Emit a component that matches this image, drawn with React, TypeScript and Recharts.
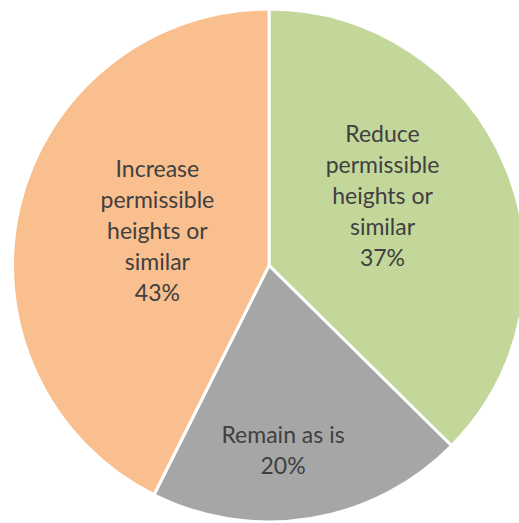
import React from 'react';
import { PieChart, Pie, Cell } from 'recharts';

const categories = [
  'Reduce permissible heights or similar',
  'Remain as is',
  'Increase permissible heights or similar',
];
const shares = [37.4, 20.0, 42.6];
const colors = ['#C4D79B', '#A6A6A6', '#FABF8F'];
// label placement: fraction of the radius, and a nudge (deg) off the slice's mid angle
const labelRadius = [0.52, 0.72, 0.457];
const labelAngleShift = [9, -5, -4.5];

const data = categories.map((name, i) => ({ name, value: shares[i] }));

const wrap = (text: string, max = 12): string[] => {
  const lines: string[] = [];
  let cur = '';
  text.split(' ').forEach(word => {
    const next = cur ? `${cur} ${word}` : word;
    if (next.length > max && cur) {
      lines.push(cur);
      cur = word;
    } else {
      cur = next;
    }
  });
  if (cur) lines.push(cur);
  return lines;
};

const RADIAN = Math.PI / 180;

const renderLabel = (props: any) => {
  const { cx, cy, midAngle, outerRadius, percent, name, index } = props;
  const r = outerRadius * labelRadius[index];
  const a = (midAngle + labelAngleShift[index]) * RADIAN;
  const x = cx + r * Math.cos(-a);
  const y = cy + r * Math.sin(-a);
  const lines = [...wrap(name), `${Math.round(percent * 100)}%`];
  const lh = 31;
  const top = y - ((lines.length - 1) * lh) / 2;
  return (
    <text
      textAnchor="middle"
      dominantBaseline="central"
      fill="#404040"
      fontSize={23}
      fontFamily="Lato, 'Open Sans', sans-serif"
    >
      {lines.map((l, i) => (
        <tspan key={i} x={x} y={top + i * lh}>
          {l}
        </tspan>
      ))}
    </text>
  );
};

export default function App() {
  return (
    <div style={{ position: 'absolute', left: 0, top: 0, width: 519, height: 523, background: '#fff' }}>
      <PieChart width={519} height={523} margin={{ top: 0, right: 0, bottom: 0, left: 0 }}>
        <Pie
          data={data}
          dataKey="value"
          nameKey="name"
          cx={269}
          cy={265.5}
          outerRadius={256.5}
          startAngle={90}
          endAngle={-270}
          stroke="#ffffff"
          strokeWidth={3}
          label={renderLabel}
          labelLine={false}
          isAnimationActive={false}
        >
          {data.map((d, i) => (
            <Cell key={d.name} fill={colors[i]} />
          ))}
        </Pie>
      </PieChart>
    </div>
  );
}
